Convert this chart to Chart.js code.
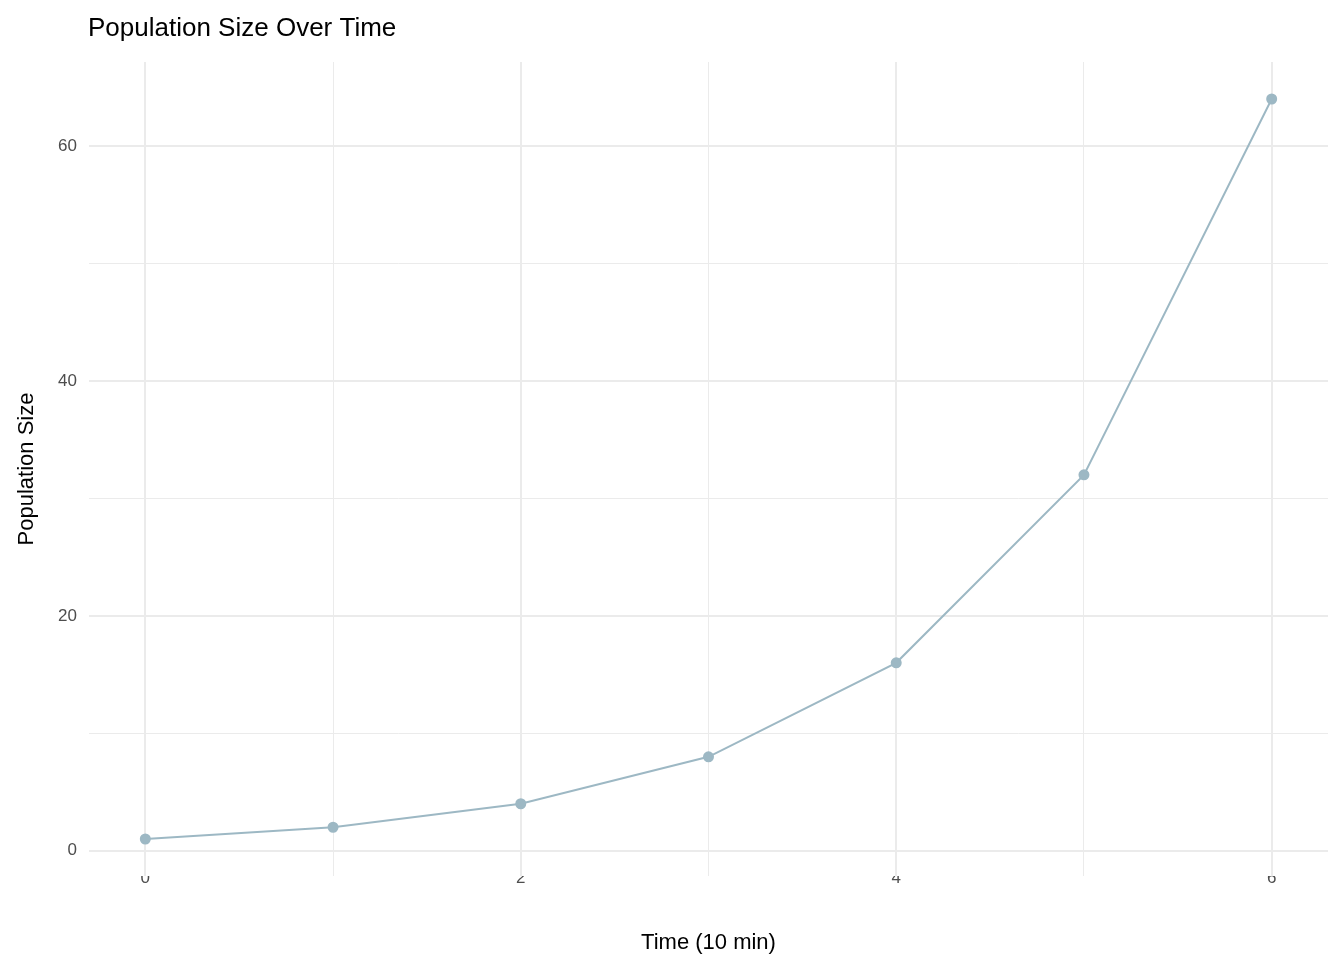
<!DOCTYPE html>
<html><head><meta charset="utf-8">
<script src="https://cdn.jsdelivr.net/npm/chart.js@4"></script>
<style>html,body{margin:0;background:#fff}#w{width:1344px;height:960px}</style>
</head><body><div id="w"><canvas id="c"></canvas></div>
<script>
const times=[0,1,2,3,4,5,6];
const population=[1,2,4,8,16,32,64];
const titleText="Population Size Over Time";
const xTitle="Time (10 min)";
const yTitle="Population Size";
const FONT="Liberation Sans, Arial, sans-serif";
const titlePlugin={id:'t',afterDraw(ch){const c=ch.ctx;c.save();c.fillStyle='#000';c.font='26px '+FONT;c.textBaseline='middle';c.fillText(titleText,88,29);c.restore();}};
new Chart(document.getElementById('c'),{
type:'scatter',
data:{datasets:[{data:times.map((t,i)=>({x:t,y:population[i]})),showLine:true,borderColor:'#9db8c4',backgroundColor:'#9db8c4',borderWidth:2,pointRadius:4.5,pointHoverRadius:4.5}]},
options:{responsive:true,maintainAspectRatio:false,animation:false,
layout:{padding:{top:62,right:16,left:10,bottom:0}},
plugins:{legend:{display:false},tooltip:{enabled:false}},
scales:{
x:{type:'linear',min:-0.3,max:6.3,border:{display:false},
afterBuildTicks:s=>{s.ticks=[0,1,2,3,4,5,6].map(v=>({value:v}));},
afterFit:s=>{s.height=84;},
grid:{color:'#ebebeb',lineWidth:c=>c.tick&&c.tick.value%2===0?2:1,drawTicks:false},
ticks:{color:'#4d4d4d',font:{size:17,family:FONT},padding:-8,autoSkip:false,maxRotation:0,callback:v=>v%2===0?v:''},
title:{display:true,text:xTitle,color:'#000',font:{size:22,family:FONT},padding:{top:10}}},
y:{min:-2.15,max:67.15,border:{display:false},
afterBuildTicks:s=>{s.ticks=[0,10,20,30,40,50,60].map(v=>({value:v}));},
afterFit:s=>{s.width=79;},
grid:{color:'#ebebeb',lineWidth:c=>c.tick&&c.tick.value%20===0?2:1,drawTicks:false},
ticks:{color:'#4d4d4d',font:{size:17,family:FONT},padding:12,autoSkip:false,callback:v=>v%20===0?v:''},
title:{display:true,text:yTitle,color:'#000',font:{size:22,family:FONT},padding:{bottom:4}}}
}},
plugins:[titlePlugin]});
</script></body></html>
